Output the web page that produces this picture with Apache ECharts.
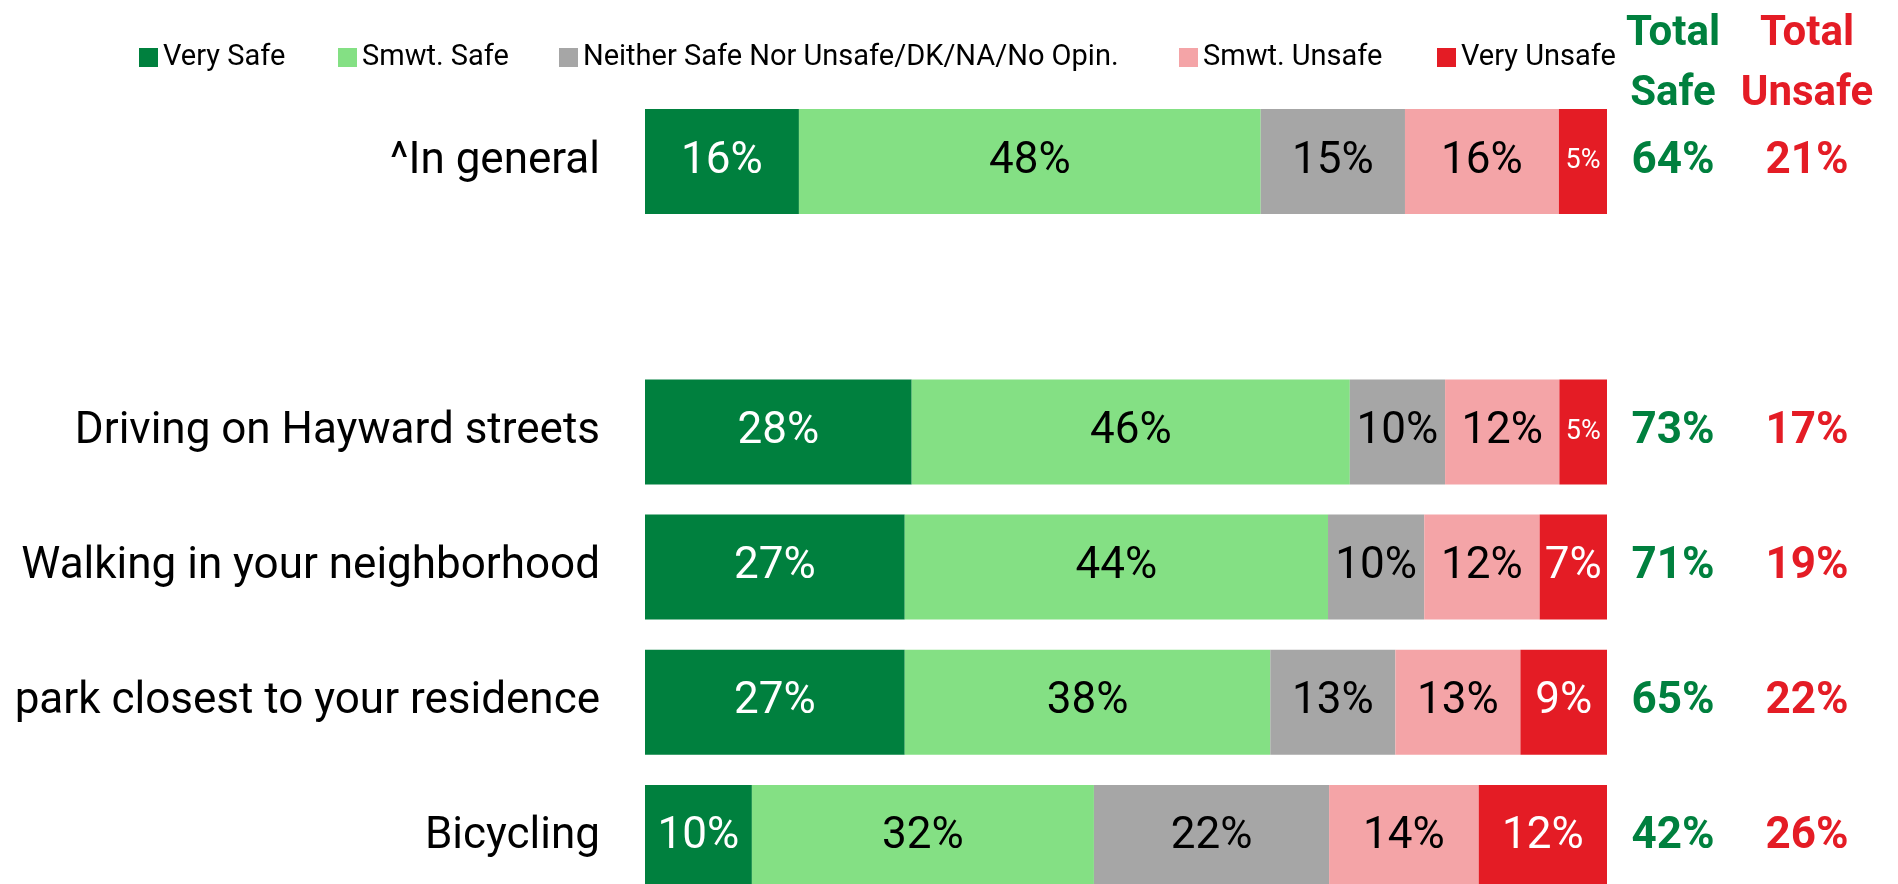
<!DOCTYPE html>
<html lang="en">
<head>
    <meta charset="UTF-8">
    <script src="https://cdn.jsdelivr.net/npm/echarts@6/dist/echarts.min.js"></script>
    <style>
        html, body { margin: 0; padding: 0; background: #fff; overflow: hidden; }
    </style>
</head>
<body>
<!-- taller than the window: the last bar runs off the bottom edge in the original -->
<div style="width: 1898px;height: 1000px" id="chart"></div>

<script>
    // rows, top to bottom (the empty one is the gap under "In general")
    var categories = ['^In general', '', 'Driving on Hayward streets', 'Walking in your neighborhood', 'park closest to your residence', 'Bicycling'];
    var seriesNames = ['Very Safe', 'Smwt. Safe', 'Neither Safe Nor Unsafe/DK/NA/No Opin.', 'Smwt. Unsafe', 'Very Unsafe'];
    var verySafe   = [16, null, 28, 27, 27, 10];
    var smwtSafe   = [48, null, 46, 44, 38, 32];
    var neither    = [15, null, 10, 10, 13, 22];
    var smwtUnsafe = [16, null, 12, 12, 13, 14];
    var veryUnsafe = [5,  null, 5,  7,  9,  12];
    var totalSafe   = [64, null, 73, 71, 65, 42];
    var totalUnsafe = [21, null, 17, 19, 22, 26];

    var colors = ['#00803e', '#84e084', '#a6a6a6', '#f4a4a7', '#e41c25'];
    var labelColors = ['#fff', '#000', '#000', '#000', '#fff'];
    var legendLeft = [134, 333, 554, 1174, 1432];
    var font = 'Roboto';

    var raw = [verySafe, smwtSafe, neither, smwtUnsafe, veryUnsafe];

    // each bar is drawn as a share of its row total, like a 100% stacked bar
    var rowSum = categories.map(function (c, i) {
        var s = 0;
        raw.forEach(function (arr) { if (arr[i] != null) s += arr[i]; });
        return s;
    });

    var series = raw.map(function (arr, k) {
        return {
            name: seriesNames[k],
            type: 'bar',
            stack: 'total',
            barWidth: 105,
            itemStyle: { color: colors[k] },
            label: {
                show: true,
                position: 'inside',
                color: labelColors[k],
                fontFamily: font,
                fontSize: 44
            },
            data: arr.map(function (v, i) {
                if (v == null) return null;
                var item = { value: v / rowSum[i] * 100 };
                item.label = { formatter: v + '%' };
                if (v <= 5) item.label.fontSize = 27;
                return item;
            })
        };
    });

    var chartDom = document.getElementById('chart');
    var myChart = echarts.init(chartDom);
    var option = {
        backgroundColor: '#fff',
        animation: false,
        legend: seriesNames.map(function (n, k) {
            return {
                data: [n],
                left: legendLeft[k],
                top: 38,
                icon: 'rect',
                itemWidth: 19,
                itemHeight: 19,
                selectedMode: false,
                textStyle: { fontFamily: font, fontSize: 29, color: '#000' }
            };
        }),
        grid: {
            left: 645,
            width: 962,
            top: 94,
            height: 811
        },
        xAxis: {
            type: 'value',
            min: 0,
            max: 100,
            show: false
        },
        yAxis: [
            {
                type: 'category',
                inverse: true,
                data: categories,
                axisLine: { show: false },
                axisTick: { show: false },
                axisLabel: { margin: 45, fontFamily: font, fontSize: 44, color: '#000' }
            },
            {
                type: 'category',
                inverse: true,
                position: 'right',
                data: categories,
                axisLine: { show: false },
                axisTick: { show: false },
                axisLabel: {
                    margin: 66, align: 'center',
                    fontFamily: font, fontSize: 44, fontWeight: 'bold', color: '#00803e',
                    formatter: function (v, i) { return totalSafe[i] == null ? '' : totalSafe[i] + '%'; }
                }
            },
            {
                type: 'category',
                inverse: true,
                position: 'right',
                data: categories,
                axisLine: { show: false },
                axisTick: { show: false },
                axisLabel: {
                    margin: 200, align: 'center',
                    fontFamily: font, fontSize: 44, fontWeight: 'bold', color: '#e41c25',
                    formatter: function (v, i) { return totalUnsafe[i] == null ? '' : totalUnsafe[i] + '%'; }
                }
            }
        ],
        graphic: [
            {
                type: 'text', x: 1673, y: 4,
                style: { text: 'Total\nSafe', fill: '#00803e', fontFamily: font, fontSize: 42, fontWeight: 'bold', lineHeight: 60, align: 'center', verticalAlign: 'top' }
            },
            {
                type: 'text', x: 1807, y: 4,
                style: { text: 'Total\nUnsafe', fill: '#e41c25', fontFamily: font, fontSize: 42, fontWeight: 'bold', lineHeight: 60, align: 'center', verticalAlign: 'top' }
            }
        ],
        series: series
    };

    option && myChart.setOption(option);
</script>
</body>
</html>
